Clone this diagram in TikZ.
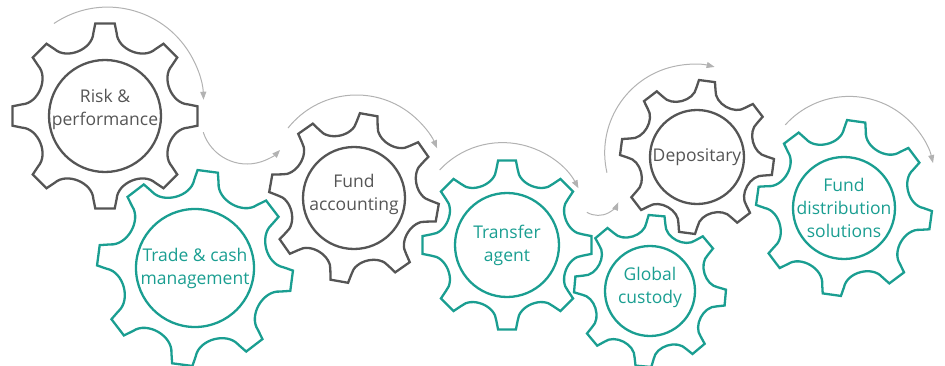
\documentclass[tikz,border=0pt]{standalone}
\usepackage{fontspec}
\setmainfont{Open Sans}
\usetikzlibrary{arrows.meta,calc}
\definecolor{gearteal}{RGB}{26,158,145}
\definecolor{geargray}{RGB}{85,85,85}
\definecolor{arrowgray}{RGB}{178,178,178}
% #1 centre, #2 outer radius, #3 rotation, #4 style
\newcommand\cogwheel[4]{%
  \begin{scope}[shift={(#1)},rotate=#3]
    \pgfmathsetmacro\cwR{#2}
    \pgfmathsetmacro\cwB{0.9*#2}
    \draw[#4] (-6:\cwR)
      \foreach \k in {0,...,6}{
        -- ({45*\k+6}:\cwR) -- ({45*\k+8}:\cwB)
        to[bend left=64] ({45*\k+37}:\cwB) -- ({45*\k+39}:\cwR)}
      -- (321:\cwR) -- (323:\cwB) to[bend left=64] (352:\cwB) -- cycle;
  \end{scope}}
\begin{document}
\begin{tikzpicture}[x=1pt,y=1pt,
  gearG/.style={draw=geargray,line width=2.3pt,line join=miter},
  gearT/.style={draw=gearteal,line width=2.3pt,line join=miter},
  ringG/.style={draw=geargray,line width=2.3pt,circle,inner sep=0pt},
  ringT/.style={draw=gearteal,line width=2.3pt,circle,inner sep=0pt},
  lblG/.style={text=geargray,align=center,font=\fontsize{17.5}{23}\selectfont,inner sep=0pt},
  lblT/.style={text=gearteal,align=center,font=\fontsize{17.5}{23}\selectfont,inner sep=0pt},
  arr/.style={draw=arrowgray,line width=1pt,-{Triangle[length=8pt,width=6pt]}}]
\useasboundingbox (0,0) rectangle (945,365);

% gear centres
\coordinate (g1) at (105,249);
\coordinate (g2) at (195,97);
\coordinate (g3) at (354,167);
\coordinate (g4) at (507,120);
\coordinate (g5) at (697,208);
\coordinate (g6) at (650,74);
\coordinate (g7) at (844,157);

% gears
\cogwheel{g1}{93}{0}{gearG}
\cogwheel{g2}{98}{-7.5}{gearT}
\cogwheel{g3}{85}{-10}{gearG}
\cogwheel{g4}{85}{0}{gearT}
\cogwheel{g5}{77}{-7.5}{gearG}
\cogwheel{g6}{76}{-5}{gearT}
\cogwheel{g7}{88}{-8}{gearT}

% inner rings
\node[ringG,minimum size=112pt] (r1) at (g1) {};
\node[ringT,minimum size=118pt] (r2) at (g2) {};
\node[ringG,minimum size=102pt] (r3) at (g3) {};
\node[ringT,minimum size=104pt] (r4) at (g4) {};
\node[ringG,minimum size=94pt]  (r5) at (g5) {};
\node[ringT,minimum size=90pt]  (r6) at (g6) {};
\node[ringT,minimum size=102pt] (r7) at (g7) {};

% labels
\node[lblG,yshift=7pt] (t1) at (g1) {Risk \&\\performance};
\node[lblT] (t2) at (g2) {Trade \& cash\\management};
\node[lblG,yshift=4pt] (t3) at (g3) {Fund\\accounting};
\node[lblT] (t4) at (g4) {Transfer\\agent};
\node[lblG] (t5) at (g5) {Depositary};
\node[lblT,yshift=4pt] (t6) at (g6) {Global\\custody};
\node[lblT] (t7) at (g7) {Fund\\distribution\\solutions};

% rotation arrows
\coordinate (a1c) at (107.6,261.9);
\coordinate (a1s) at ($(a1c)+(124:96)$);
\draw[arr] (a1s) arc[start angle=124,end angle=2,radius=96];

\coordinate (a2c) at (247,247);
\coordinate (a2s) at ($(a2c)+(198:46)$);
\draw[arr] (a2s) arc[start angle=198,end angle=316,radius=46];

\coordinate (a3c) at (356.5,182.5);
\coordinate (a3s) at ($(a3c)+(141.5:87.5)$);
\draw[arr] (a3s) arc[start angle=141.5,end angle=23,radius=87.5];

\coordinate (a4c) at (502.5,136.4);
\coordinate (a4s) at ($(a4c)+(137:86)$);
\draw[arr] (a4s) arc[start angle=137,end angle=28,radius=86];

\coordinate (a5c) at (598.2,171.6);
\coordinate (a5s) at ($(a5c)+(239:22)$);
\draw[arr] (a5s) arc[start angle=239,end angle=336,radius=22];

\coordinate (a6c) at (693.2,212.2);
\coordinate (a6s) at ($(a6c)+(193:88.5)$);
\draw[arr] (a6s) arc[start angle=193,end angle=76,radius=88.5];

\coordinate (a7c) at (849.2,182.6);
\coordinate (a7s) at ($(a7c)+(138:86)$);
\draw[arr] (a7s) arc[start angle=138,end angle=13,radius=86];
\end{tikzpicture}
\end{document}
